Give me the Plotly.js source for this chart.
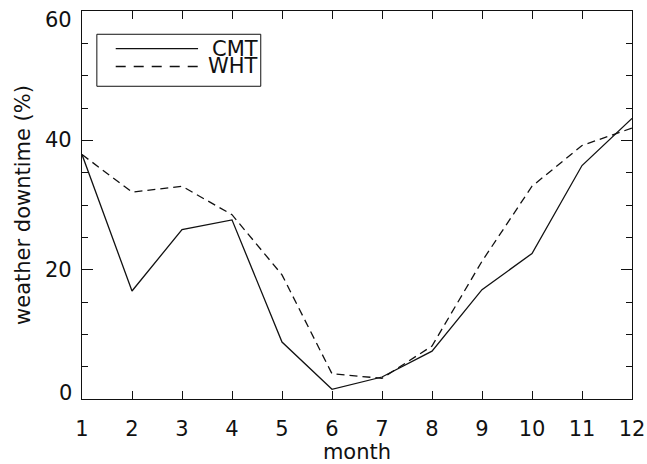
<!DOCTYPE html>
<html>
<head>
<meta charset="utf-8">
<script src="https://cdn.plot.ly/plotly-3.0.1.min.js"></script>
<style>html,body{margin:0;padding:0;background:#fff}#chart{width:647px;height:464px}</style>
</head>
<body>
<div id="chart"></div>
<script>
const months = [1,2,3,4,5,6,7,8,9,10,11,12];
const cmt = [37.8,16.7,26.2,27.7,8.8,1.5,3.4,7.4,16.9,22.5,36.1,43.4];
const wht = [37.8,32.0,32.9,28.5,19.2,3.9,3.2,8.2,21.3,32.9,39.2,41.9];
const seriesNames = ['CMT','WHT'];
const xTickVals = months;
const xTickText = months.map(String);
const yTickVals = [0,20,40,60];
const yTickText = yTickVals.map(String);

const FONT = 'DejaVu Sans, Verdana, sans-serif';
const INK = '#111';
const FS = 21;

const traces = [
  {x: months, y: cmt, name: seriesNames[0], mode: 'lines', line: {color: INK, width: 1.3}, showlegend: false},
  {x: months, y: wht, name: seriesNames[1], mode: 'lines', line: {color: INK, width: 1.3, dash: '8px,5px'}, showlegend: false}
];

const legX0 = 0.027, legX1 = 0.325, legY0 = 0.806, legY1 = 0.94;
const rowY = [0.903, 0.857];
const dashes = ['solid', '10px,8px'];
const shapes = [
  {type: 'rect', xref: 'paper', yref: 'paper', x0: legX0, x1: legX1, y0: legY0, y1: legY1, line: {color: INK, width: 1}, fillcolor: 'rgba(0,0,0,0)'}
];
const annotations = [];
seriesNames.forEach((n, i) => {
  shapes.push({type: 'line', xref: 'paper', yref: 'paper', x0: 0.0613, x1: 0.211, y0: rowY[i], y1: rowY[i], line: {color: INK, width: 1.3, dash: dashes[i]}});
  annotations.push({xref: 'paper', yref: 'paper', x: 0.321, y: rowY[i], text: n, showarrow: false, xanchor: 'right', yanchor: 'middle', borderpad: 0, font: {family: FONT, size: FS, color: INK}});
});
// y tick labels (end labels nudged inward, as in the reference)
const yLabelShift = [6, 0, 0, -9];
yTickVals.forEach((v, i) => {
  annotations.push({xref: 'paper', yref: 'y', x: 0, y: v, text: yTickText[i], showarrow: false, xanchor: 'right', yanchor: 'middle', xshift: -9, yshift: yLabelShift[i], borderpad: 0, font: {family: FONT, size: FS, color: INK}});
});

const layout = {
  width: 647, height: 464,
  margin: {l: 82, r: 15, t: 11, b: 65},
  paper_bgcolor: '#fff', plot_bgcolor: '#fff',
  font: {family: FONT, size: FS, color: INK},
  showlegend: false,
  xaxis: {
    range: [1, 12], tickvals: xTickVals, ticktext: xTickText,
    ticks: 'inside', ticklen: 8, tickwidth: 1, tickcolor: INK,
    showline: true, linecolor: INK, linewidth: 1, mirror: 'ticks',
    showgrid: false, zeroline: false, ticklabelstandoff: 11, ticklabeloverflow: 'allow',
    tickfont: {family: FONT, size: FS, color: INK},
    title: {text: 'month', font: {family: FONT, size: FS, color: INK}, standoff: 5}
  },
  yaxis: {
    range: [0, 60], tickvals: yTickVals, showticklabels: false,
    ticks: 'inside', ticklen: 11, tickwidth: 1, tickcolor: INK,
    minor: {dtick: 5, tick0: 0, ticks: 'inside', ticklen: 6, tickwidth: 1, tickcolor: INK, showgrid: false},
    showline: true, linecolor: INK, linewidth: 1, mirror: 'ticks',
    showgrid: false, zeroline: false,
    title: {text: 'weather downtime (%)', font: {family: FONT, size: FS, color: INK}, standoff: 44}
  },
  shapes: shapes,
  annotations: annotations
};

Plotly.newPlot('chart', traces, layout, {staticPlot: true, displayModeBar: false});
</script>
</body>
</html>
